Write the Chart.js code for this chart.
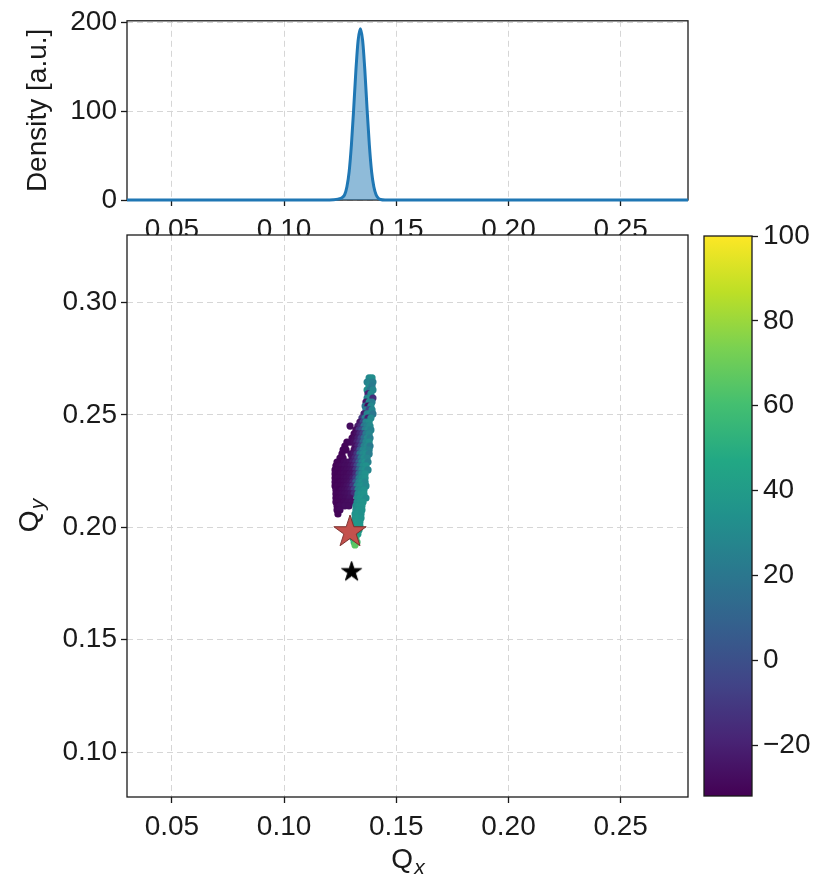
<!DOCTYPE html>
<html lang="en">
<head>
<meta charset="utf-8">
<title>Tune footprint</title>
<style>
  body { margin: 0; background: #fff; }
  #wrap { position: relative; width: 819px; height: 880px; }
  #wrap canvas { position: absolute; left: 0; top: 0; }
</style>
</head>
<body>
<div id="wrap">
  <canvas id="densChart" width="819" height="880"></canvas>
  <canvas id="tuneChart" width="819" height="880"></canvas>
  <canvas id="barChart" width="819" height="880"></canvas>
</div>
<script src="https://cdn.jsdelivr.net/npm/chart.js@4.4.1/dist/chart.umd.min.js"></script>
<script>
// ---- data ----
let qxRange = [0.03, 0.28];
let qyRange = [0.08, 0.33];
let qxTicks = [0.05, 0.10, 0.15, 0.20, 0.25];
let qyTicks = [0.10, 0.15, 0.20, 0.25, 0.30];

// density of Qx (top panel)
let densQx  = [0.030, 0.100, 0.118, 0.122, 0.124, 0.126, 0.127, 0.128, 0.129, 0.130, 0.131, 0.132, 0.133, 0.134, 0.135, 0.136, 0.137, 0.138, 0.139, 0.140, 0.141, 0.142, 0.143, 0.145, 0.160, 0.280];
let densVal = [0, 0, 0, 0.3, 1, 3, 6, 15, 32, 62, 102, 146, 180, 193, 180, 146, 102, 62, 32, 15, 6, 2, 0.5, 0, 0, 0];
let densRange = [0, 202];
let densTicks = [0, 100, 200];

// colour bar
let cbarRange = [-32, 100];
let cbarTicks = [-20, 0, 20, 40, 60, 80, 100];

// tune footprint, one row per Qy
let qyRow = [0.2664, 0.2646, 0.2628, 0.2611, 0.2593, 0.2575, 0.2557, 0.2539, 0.2522, 0.2504,
             0.2486, 0.2468, 0.2450, 0.2433, 0.2415, 0.2397, 0.2379, 0.2361, 0.2344, 0.2326,
             0.2308, 0.2290, 0.2273, 0.2255, 0.2237, 0.2219, 0.2201, 0.2184, 0.2166, 0.2148,
             0.2130, 0.2112, 0.2095, 0.2077, 0.2059, 0.2041, 0.2023, 0.2006, 0.1988, 0.1970,
             0.1952, 0.1934, 0.1921];
let qxRow = [
  [0.1379, 0.1392],
  [0.1370, 0.1383, 0.1396],
  [0.1379, 0.1392],
  [0.1370, 0.1383, 0.1396],
  [0.1374, 0.1387],
  [0.1370, 0.1383, 0.1396],
  [0.1365, 0.1379, 0.1392],
  [0.1361, 0.1374, 0.1387],
  [0.1365, 0.1379, 0.1392],
  [0.1356, 0.1370, 0.1383, 0.1396],
  [0.1347, 0.1361, 0.1374, 0.1387],
  [0.1338, 0.1352, 0.1365, 0.1379],
  [0.1294, 0.1329, 0.1343, 0.1356, 0.1370, 0.1383],
  [0.1320, 0.1334, 0.1347, 0.1361, 0.1374, 0.1387],
  [0.1312, 0.1325, 0.1338, 0.1352, 0.1365, 0.1379],
  [0.1303, 0.1316, 0.1329, 0.1343, 0.1356, 0.1370, 0.1383],
  [0.1280, 0.1294, 0.1312, 0.1325, 0.1338, 0.1352, 0.1365, 0.1379],
  [0.1271, 0.1316, 0.1329, 0.1343, 0.1356, 0.1370, 0.1383],
  [0.1263, 0.1276, 0.1312, 0.1325, 0.1338, 0.1352, 0.1365, 0.1379],
  [0.1258, 0.1298, 0.1312, 0.1325, 0.1338, 0.1352, 0.1365, 0.1379],
  [0.1249, 0.1263, 0.1303, 0.1316, 0.1329, 0.1343, 0.1356, 0.1370],
  [0.1236, 0.1249, 0.1267, 0.1280, 0.1294, 0.1307, 0.1320, 0.1334, 0.1347, 0.1361, 0.1374],
  [0.1231, 0.1245, 0.1258, 0.1271, 0.1285, 0.1298, 0.1312, 0.1325, 0.1338, 0.1352, 0.1365],
  [0.1227, 0.1240, 0.1254, 0.1267, 0.1280, 0.1294, 0.1307, 0.1320, 0.1334, 0.1347, 0.1361, 0.1374],
  [0.1227, 0.1240, 0.1254, 0.1267, 0.1280, 0.1294, 0.1307, 0.1320, 0.1334, 0.1347, 0.1361],
  [0.1227, 0.1240, 0.1254, 0.1267, 0.1280, 0.1294, 0.1307, 0.1320, 0.1334, 0.1347, 0.1361],
  [0.1227, 0.1240, 0.1254, 0.1267, 0.1280, 0.1294, 0.1307, 0.1320, 0.1334, 0.1347, 0.1361],
  [0.1227, 0.1240, 0.1254, 0.1267, 0.1280, 0.1294, 0.1307, 0.1325, 0.1338, 0.1352, 0.1365],
  [0.1231, 0.1245, 0.1258, 0.1271, 0.1285, 0.1298, 0.1312, 0.1329, 0.1343, 0.1356],
  [0.1231, 0.1245, 0.1258, 0.1271, 0.1285, 0.1298, 0.1312, 0.1329, 0.1343, 0.1356],
  [0.1231, 0.1245, 0.1258, 0.1276, 0.1294, 0.1325, 0.1338, 0.1352, 0.1365],
  [0.1231, 0.1245, 0.1267, 0.1285, 0.1303, 0.1325, 0.1338, 0.1352],
  [0.1236, 0.1249, 0.1271, 0.1289, 0.1320, 0.1334, 0.1347],
  [0.1236, 0.1249, 0.1320, 0.1334, 0.1347],
  [0.1240, 0.1316, 0.1329, 0.1343],
  [0.1316, 0.1329, 0.1343],
  [0.1312, 0.1325, 0.1338],
  [0.1312, 0.1325, 0.1338],
  [0.1307, 0.1320, 0.1334],
  [0.1307, 0.1320, 0.1329],
  [0.1307, 0.1320],
  [0.1312, 0.1325],
  [0.1316]
];
let heatRow = [
  [30, 32],
  [26, 28, 24],
  [30, 22],
  [32, 20, 28],
  [-20, 30],
  [26, 32, -15],
  [-25, 28, 24],
  [18, -28, 30],
  [22, -5, 28],
  [-22, 26, 30, 20],
  [-10, 24, -20, 30],
  [-25, -5, 28, 32],
  [-28, -22, -15, 20, 26, 30],
  [-28, -12, -2, 24, 30, 26],
  [-30, -26, -18, -6, 22, 28],
  [-30, -28, -22, -8, 15, 30, 24],
  [-30, -29, -27, -20, -10, 12, 28, 32],
  [-30, -26, -18, -2, 25, 30, 22],
  [-30, -30, -27, -20, 5, 28, 30, 26],
  [-31, -28, -24, -12, 18, 30, 32, 24],
  [-30, -30, -26, -18, -5, 22, 32, 28],
  [-30, -31, -29, -28, -27, -22, -12, 8, 28, 34, 26],
  [-31, -30, -29, -28, -28, -26, -20, -5, 20, 32, 34],
  [-31, -30, -30, -29, -28, -27, -24, -12, 10, 30, 34, 28],
  [-30, -31, -30, -29, -29, -27, -25, -15, 15, 30, 34],
  [-31, -30, -30, -29, -28, -27, -22, -8, 24, 32, 34],
  [-30, -31, -30, -29, -28, -26, -18, 5, 28, 34, 30],
  [-31, -30, -30, -29, -27, -24, -12, 24, 32, 34, 30],
  [-30, -31, -29, -28, -26, -22, -8, 28, 32, 34],
  [-30, -30, -29, -28, -27, -25, -15, 30, 34, 35],
  [-31, -30, -29, -28, -26, 30, 34, 36, 32],
  [-30, -30, -29, -28, -27, 32, 34, 36],
  [-31, -29, -28, -28, 32, 35, 36],
  [-30, -29, 33, 36, 35],
  [-31, 34, 36, 34],
  [35, 37, 35],
  [36, 38, 36],
  [37, 39, 37],
  [38, 40, 38],
  [40, 44, 40],
  [48, 52],
  [56, 60],
  [66]
];

// working point markers
let redStar = [0.1294, 0.1979];
let blackStar = [0.1301, 0.1802];

// ---- style ----
const FONT = "'Liberation Sans', Arial, sans-serif";
const INK = '#1a1a1a';
const GRID = '#d6d6d6';
const VIR = ['#440154', '#482475', '#414487', '#355f8d', '#2a788e', '#21918c',
             '#22a884', '#44bf70', '#7ad151', '#bddf26', '#fde725'];

Chart.defaults.font.family = FONT;
Chart.defaults.font.size = 28;
Chart.defaults.color = INK;
Chart.defaults.animation = false;
Chart.defaults.events = [];
Chart.defaults.plugins.legend.display = false;
Chart.defaults.plugins.tooltip.enabled = false;

function hexRgb(h) {
  return [1, 3, 5].map(i => parseInt(h.slice(i, i + 2), 16));
}
function viridis(t) {
  t = Math.min(1, Math.max(0, t)) * (VIR.length - 1);
  const i = Math.min(VIR.length - 2, Math.floor(t));
  const f = t - i;
  const a = hexRgb(VIR[i]), b = hexRgb(VIR[i + 1]);
  const c = a.map((v, k) => Math.round(v + (b[k] - v) * f));
  return `rgb(${c[0]},${c[1]},${c[2]})`;
}

function starImage(r, fill, edge) {
  const c = document.createElement('canvas');
  const s = Math.ceil(2 * r + 4);
  c.width = s; c.height = s;
  const g = c.getContext('2d');
  g.translate(s / 2, s / 2);
  g.beginPath();
  for (let i = 0; i < 10; i++) {
    const rr = i % 2 ? r * 0.382 : r;
    const ang = -Math.PI / 2 + i * Math.PI / 5;
    g.lineTo(rr * Math.cos(ang), rr * Math.sin(ang));
  }
  g.closePath();
  g.fillStyle = fill;
  g.fill();
  g.lineWidth = 1;
  g.strokeStyle = edge;
  g.stroke();
  return c;
}

function linAxis(range, ticks, pad, fmt, extra) {
  return Object.assign({
    type: 'linear',
    min: range[0],
    max: range[1],
    afterBuildTicks: s => { s.ticks = ticks.map(v => ({ value: v })); },
    grid: { color: GRID, lineWidth: 1, tickLength: 6, tickColor: INK, tickWidth: 1.3 },
    border: { display: false, dash: [6, 4] },
    ticks: { padding: pad, color: INK, callback: fmt }
  }, extra);
}

function boxLine(chart) {
  const { ctx, chartArea: a } = chart;
  ctx.save();
  ctx.strokeStyle = INK;
  ctx.lineWidth = 1.3;
  ctx.strokeRect(a.left, a.top, a.right - a.left, a.bottom - a.top);
  ctx.restore();
}

// label like "Q" with a small italic subscript
function subLabel(ctx, x, y, rot, main, sub) {
  ctx.save();
  ctx.translate(x, y);
  ctx.rotate(rot);
  const big = `28px ${FONT}`, small = `italic 21px ${FONT}`;
  ctx.font = big;
  const w1 = ctx.measureText(main).width;
  ctx.font = small;
  const w2 = ctx.measureText(sub).width;
  const x0 = -(w1 + w2) / 2;
  ctx.fillStyle = INK;
  ctx.textBaseline = 'alphabetic';
  ctx.font = big;
  ctx.fillText(main, x0, 10);
  ctx.font = small;
  ctx.fillText(sub, x0 + w1 + 1, 16);
  ctx.restore();
}

const fmt2 = v => v.toFixed(2);

// ---- top: density of Qx ----
new Chart(document.getElementById('densChart'), {
  type: 'line',
  data: {
    datasets: [{
      data: densQx.map((x, i) => ({ x, y: densVal[i] })),
      borderColor: '#1f77b4',
      backgroundColor: 'rgba(31,119,180,0.5)',
      borderWidth: 3,
      fill: 'origin',
      pointRadius: 0,
      cubicInterpolationMode: 'monotone',
      clip: 4
    }]
  },
  options: {
    responsive: false,
    layout: { padding: { left: 0, top: 18, right: 131, bottom: 640 } },
    scales: {
      x: linAxis(qxRange, qxTicks, 7, fmt2, { afterFit: s => { s.height = 40; } }),
      y: linAxis(densRange, densTicks, 4, v => String(v), { afterFit: s => { s.width = 127; } })
    }
  },
  plugins: [{
    id: 'densFrame',
    beforeDatasetsDraw: boxLine,
    afterDraw(chart) {
      const { ctx, chartArea: a } = chart;
      ctx.save();
      ctx.translate(38, (a.top + a.bottom) / 2);
      ctx.rotate(-Math.PI / 2);
      ctx.font = `28px ${FONT}`;
      ctx.fillStyle = INK;
      ctx.textAlign = 'center';
      ctx.textBaseline = 'middle';
      ctx.fillText('Density [a.u.]', 0, 0);
      ctx.restore();
    }
  }]
});

// ---- main: tune footprint ----
const tunePts = [], tuneCols = [];
qyRow.forEach((y, i) => {
  qxRow[i].forEach((x, j) => {
    tunePts.push({ x, y });
    tuneCols.push(viridis((heatRow[i][j] - cbarRange[0]) / (cbarRange[1] - cbarRange[0])));
  });
});

// lower "order" is painted last, so the stars sit above the cloud
new Chart(document.getElementById('tuneChart'), {
  type: 'scatter',
  data: {
    datasets: [{
      data: tunePts,
      backgroundColor: tuneCols,
      borderWidth: 0,
      pointRadius: 3.6,
      order: 2
    }, {
      data: [{ x: redStar[0], y: redStar[1] }],
      pointStyle: starImage(17, '#c4514d', '#7a2e2c'),
      order: 1
    }, {
      data: [{ x: blackStar[0], y: blackStar[1] }],
      pointStyle: starImage(10.5, '#000', '#000'),
      order: 0
    }]
  },
  options: {
    responsive: false,
    layout: { padding: { left: 0, top: 235, right: 131, bottom: 0 } },
    scales: {
      x: linAxis(qxRange, qxTicks, 7, fmt2, { afterFit: s => { s.height = 83; } }),
      y: linAxis(qyRange, qyTicks, 4, fmt2, { afterFit: s => { s.width = 127; } })
    }
  },
  plugins: [{
    id: 'tunePaper',
    beforeDraw(chart) {
      const { ctx, chartArea: a } = chart;
      ctx.save();
      ctx.fillStyle = '#fff';
      ctx.fillRect(a.left, a.top, a.right - a.left, a.bottom - a.top);
      ctx.restore();
    },
    afterDatasetsDraw: boxLine,
    afterDraw(chart) {
      const a = chart.chartArea;
      subLabel(chart.ctx, (a.left + a.right) / 2, 858, 0, 'Q', 'x');
      subLabel(chart.ctx, 28, (a.top + a.bottom) / 2, -Math.PI / 2, 'Q', 'y');
    }
  }]
});

// ---- colour bar ----
new Chart(document.getElementById('barChart'), {
  type: 'bar',
  data: {
    labels: ['c'],
    datasets: [{
      data: [cbarRange],
      barPercentage: 1,
      categoryPercentage: 1,
      borderWidth: 0,
      borderSkipped: false,
      backgroundColor: ctx => {
        const a = ctx.chart.chartArea;
        if (!a) return VIR[0];
        const g = ctx.chart.ctx.createLinearGradient(0, a.bottom, 0, a.top);
        VIR.forEach((c, i) => g.addColorStop(i / (VIR.length - 1), c));
        return g;
      }
    }]
  },
  options: {
    responsive: false,
    layout: { padding: { left: 704, top: 236, right: 0, bottom: 84 } },
    scales: {
      x: { display: false },
      y: linAxis(cbarRange, cbarTicks, 5, v => String(v).replace('-', '\u2212'), {
        position: 'right',
        afterFit: s => { s.width = 67; },
        grid: { drawOnChartArea: false, tickLength: 6, tickColor: INK, tickWidth: 1.3 }
      })
    }
  },
  plugins: [{ id: 'barFrame', afterDatasetsDraw: boxLine }]
});
</script>
</body>
</html>
